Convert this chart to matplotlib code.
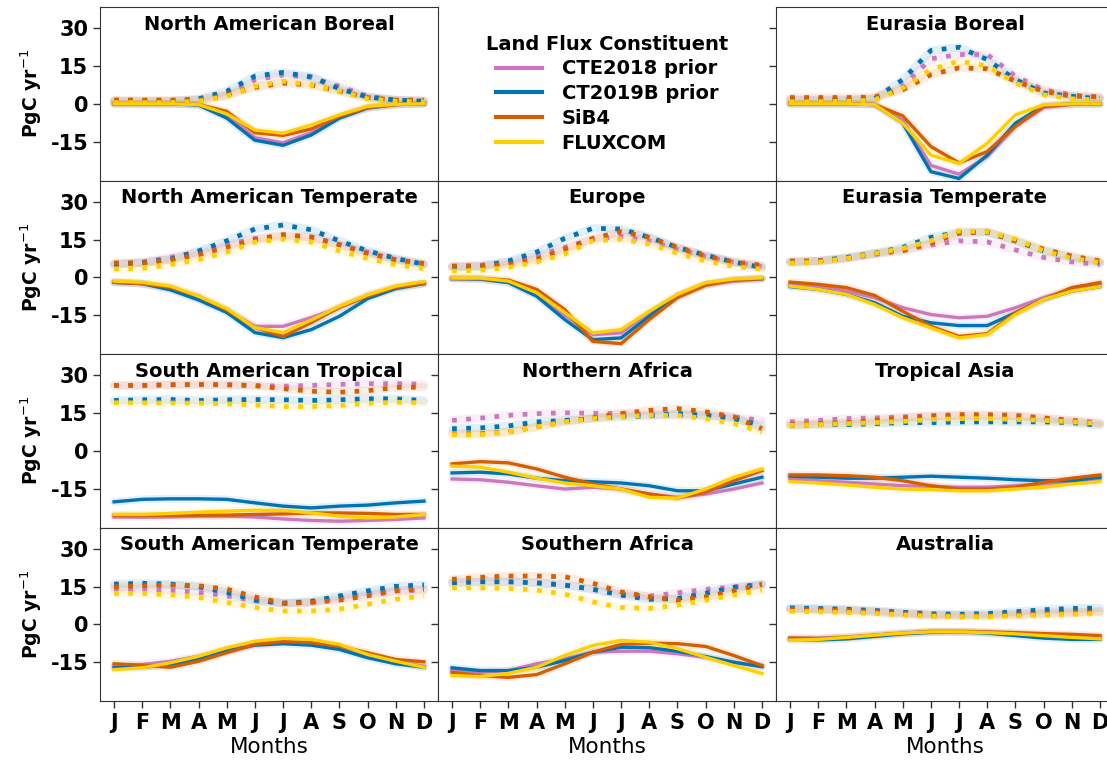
import numpy as np
import matplotlib
matplotlib.use("Agg")
import matplotlib.pyplot as plt
from matplotlib.lines import Line2D

months = ["J", "F", "M", "A", "M", "J", "J", "A", "S", "O", "N", "D"]
models = ["CTE2018 prior", "CT2019B prior", "SiB4", "FLUXCOM"]
colors = ["#CC78BC", "#0173B2", "#D55E00", "#FFD000"]

regions = [
    "North American Boreal", None, "Eurasia Boreal",
    "North American Temperate", "Europe", "Eurasia Temperate",
    "South American Tropical", "Northern Africa", "Tropical Asia",
    "South American Temperate", "Southern Africa", "Australia",
]

# Respiration-type (positive) fluxes per region, order: CTE2018, CT2019B, SiB4, FLUXCOM
resp = {
    "North American Boreal": [
        [1, 1, 1, 1.5, 3.5, 9.5, 11.5, 10.5, 7, 3, 1.5, 1],
        [1, 1, 1, 2, 5, 11, 12.5, 10.7, 6, 2.7, 1.5, 1],
        [1.5, 1.5, 1.5, 1.5, 3.5, 6.5, 8.2, 7.5, 5, 2.5, 1.5, 1.5],
        [0.5, 0.5, 0.5, 1, 3, 7, 9, 7.5, 5, 2, 1, 0.7],
    ],
    "Eurasia Boreal": [
        [1.5, 1.5, 1.5, 2, 7, 17.9, 19.6, 19.6, 11, 5.6, 3.6, 2.5],
        [1.5, 1.5, 1.5, 2, 9.6, 21.2, 22.5, 17.6, 9.6, 4.3, 3, 2],
        [2.5, 2.5, 2.5, 2.7, 5.6, 11.6, 14.3, 13.9, 9, 5, 3, 2.8],
        [0.8, 0.8, 1, 1.5, 6.3, 13.6, 17, 15, 8.3, 3.6, 2, 1.5],
    ],
    "North American Temperate": [
        [5, 6, 8, 10, 13, 15.5, 16.3, 16, 13, 10, 7, 5],
        [5.2, 5.9, 7.2, 10.5, 14.5, 19.2, 20.8, 18.9, 14.5, 10.5, 7.5, 5.2],
        [5.7, 5.7, 7, 9, 12, 15, 17, 16, 13, 9.5, 7, 5.5],
        [3.3, 3.5, 5, 7, 10, 14, 15.2, 14, 10.5, 7.5, 5, 3.5],
    ],
    "Europe": [
        [4.3, 4.8, 6.1, 8.5, 11.9, 15.2, 16.3, 14.5, 11.2, 8.3, 5.9, 4.3],
        [3.9, 4.3, 6.5, 10, 15.5, 19.5, 19.2, 15.9, 11.9, 8.8, 6.1, 3.9],
        [4.5, 4.5, 5.2, 7.2, 11.2, 15.5, 18.1, 15.9, 11.9, 8.5, 6.1, 4.8],
        [2.5, 2.8, 3.9, 6.1, 9.2, 14.5, 15.2, 13.2, 9.6, 6.5, 4.3, 3.2],
    ],
    "Eurasia Temperate": [
        [6, 6.5, 7.5, 9, 11, 12.8, 14.5, 14.1, 10.9, 7.9, 6.1, 5.1],
        [6, 6.5, 7.9, 9.6, 11.9, 15.9, 17.9, 17.9, 14.5, 10.5, 7.9, 5.9],
        [6.5, 6.5, 7.5, 9.5, 10.5, 13.6, 17.5, 18.1, 14.5, 11.2, 8.5, 6.5],
        [5.6, 6, 7.5, 9.5, 11.5, 14.5, 18.5, 18.1, 15.2, 10.5, 7.5, 5.9],
    ],
    "South American Tropical": [
        [26, 26, 26.2, 26.3, 26.2, 26, 25.7, 26, 26.4, 26.7, 26.7, 26.5],
        [20, 20.3, 20.4, 20, 20.3, 20.4, 20.3, 20, 20.3, 20.7, 20.7, 20],
        [26, 26, 26.3, 26.4, 26.3, 25.9, 24.7, 23.7, 23.3, 23.9, 25.2, 25.3],
        [19.1, 19.1, 19, 19, 18.7, 18.3, 17.6, 17.6, 18, 18.9, 19.3, 19.1],
    ],
    "Northern Africa": [
        [12.1, 13, 14.1, 14.8, 15.1, 14.9, 14.9, 14.4, 14.1, 14.1, 13.5, 12.1],
        [8.8, 9.1, 9.9, 11.5, 12.1, 12.8, 13.5, 13.9, 14.8, 14.1, 12.8, 10.1],
        [6.8, 6.8, 7.5, 9.5, 11.5, 13.1, 14.8, 16.1, 16.8, 15.5, 13.5, 8.8],
        [6.4, 6.4, 7.5, 9.5, 11.5, 12.8, 13.5, 14.1, 14.1, 12.8, 10.8, 7.5],
    ],
    "Tropical Asia": [
        [11.5, 12.1, 12.8, 13.1, 13.5, 13.9, 13.9, 13.9, 13.8, 12.8, 12.1, 11.2],
        [10.1, 10.4, 10.4, 10.8, 11.2, 11.2, 11.5, 11.5, 11.5, 11.5, 11.2, 10.1],
        [10.4, 10.8, 11.2, 12.1, 13.1, 13.9, 14.4, 14.4, 14.1, 13.1, 12.1, 10.8],
        [10.1, 10.4, 10.8, 11.2, 11.7, 12.4, 12.8, 12.8, 12.5, 12.1, 11.5, 10.8],
    ],
    "South American Temperate": [
        [14, 14, 13.6, 12.7, 11.3, 9.3, 8.4, 8.7, 10.4, 12, 13.3, 13.6],
        [16, 16.3, 16, 14.9, 12.7, 9.6, 8.4, 9.1, 11.3, 13.3, 15.1, 15.7],
        [14.9, 15.3, 15.6, 15.3, 14, 10.9, 8.4, 8.7, 9.6, 11.3, 13.3, 14],
        [12.3, 12.3, 11.7, 10.7, 8.7, 6.7, 5.3, 5.3, 6, 8, 10, 11.3],
    ],
    "Southern Africa": [
        [16.5, 16.9, 16.9, 16.5, 15.6, 13.9, 12, 11.2, 12.5, 13.9, 14.9, 15.9],
        [16.5, 16.9, 16.9, 16.5, 15.6, 13.9, 11.6, 9.9, 10.3, 12.3, 14.7, 15.9],
        [17.9, 18.7, 19.2, 19.2, 18.9, 16.3, 12.9, 10.9, 9.6, 10.9, 13.3, 15.9],
        [14.5, 14.5, 14.3, 13.6, 12, 8.9, 6.7, 6.3, 7.6, 9.6, 11.6, 13.6],
    ],
    "Australia": [
        [6.3, 6, 5.7, 5, 4.3, 3.7, 3.5, 3.7, 4.2, 4.7, 5, 5.2],
        [6.5, 6.3, 6, 5.5, 4.8, 4.2, 4, 4.3, 5, 5.8, 6.3, 6.5],
        [6, 5.8, 5.5, 5, 4.3, 3.7, 3.5, 3.5, 3.8, 4.2, 4.6, 5],
        [5.2, 5, 4.7, 4.3, 3.7, 3.2, 3, 3, 3.3, 3.7, 4, 4.3],
    ],
}

# Photosynthetic uptake (negative) fluxes per region, same model order
gpp = {
    "North American Boreal": [
        [0, 0, 0, -0.3, -4.5, -13.5, -15.5, -11.5, -5.5, -1.5, -0.3, 0],
        [0, 0, 0, -0.5, -5.7, -14.5, -16.5, -12.4, -5.7, -1.7, -0.3, 0],
        [0, 0, 0, -0.3, -3, -11.5, -12.6, -10, -5, -1.5, -0.3, 0],
        [0, 0, 0, -0.3, -4, -10.4, -11.7, -8.4, -4.4, -1, -0.2, 0],
    ],
    "Eurasia Boreal": [
        [0, 0, 0, -0.3, -6.5, -24.5, -28, -21, -9, -1.5, -0.2, 0],
        [0, 0, 0, -0.3, -7.7, -27, -29.7, -20.4, -7.7, -0.8, 0, 0],
        [0, 0, 0, -0.3, -4.8, -17, -23.5, -19, -9, -1, -0.2, 0],
        [0, 0, 0, -0.3, -7.7, -20.4, -23.7, -15.7, -4.4, -0.4, 0, 0],
    ],
    "North American Temperate": [
        [-2, -2.5, -4.5, -8.5, -13, -19.5, -19.5, -16, -12, -7, -4, -2.5],
        [-2, -2.5, -5, -9, -14, -22, -24, -20.8, -15.5, -8.5, -4.5, -2.5],
        [-2, -2.5, -4, -7.5, -13, -20, -23.5, -18, -12, -7.5, -4, -2.5],
        [-1.5, -2, -3.5, -7.5, -12.5, -20, -22, -17, -11.5, -7, -3.5, -1.7],
    ],
    "Europe": [
        [-0.5, -0.6, -2, -7, -15, -22.8, -22.1, -14, -7, -3, -1.5, -0.7],
        [-0.5, -0.7, -2.1, -7.5, -16.8, -24.8, -24.1, -15.5, -7.5, -2.8, -1, -0.5],
        [-0.5, -0.5, -1.1, -4.8, -12.8, -25.5, -26.4, -16.8, -8.1, -3.2, -1.1, -0.5],
        [-0.3, -0.3, -1.5, -6.1, -14, -22.1, -20.8, -13.5, -6.8, -2.1, -0.7, -0.2],
    ],
    "Eurasia Temperate": [
        [-2.8, -3.5, -5.5, -8.1, -12.1, -14.8, -16.1, -15.5, -12.1, -8.1, -4.8, -2.8],
        [-3.7, -4.8, -6.8, -10.1, -15.5, -18.1, -19.2, -19.2, -14.1, -8.8, -5.5, -3.7],
        [-1.9, -2.8, -4.1, -7.2, -13.5, -19.5, -23.5, -22.4, -14.1, -8.8, -4.1, -2.1],
        [-3.5, -4.8, -6.8, -10.8, -16.1, -20.1, -24.1, -22.8, -14.8, -8.8, -5.5, -3.7],
    ],
    "South American Tropical": [
        [-26.3, -26.4, -26.3, -26, -26, -26.3, -27.1, -27.7, -28, -27.7, -27.3, -26.7],
        [-20.3, -19.3, -19.1, -19.1, -19.3, -20.7, -22, -22.7, -22, -21.6, -20.7, -20],
        [-25.7, -25.7, -25.7, -25.6, -25.6, -25.3, -25.1, -24.7, -24.7, -24.9, -25.3, -25.3],
        [-25.3, -25.3, -24.9, -24.4, -24, -23.6, -23.7, -24.7, -26, -26.7, -26.3, -25.3],
    ],
    "Northern Africa": [
        [-11.2, -11.5, -12.5, -13.9, -15.2, -14.5, -15.2, -17.2, -18.5, -17.2, -15.2, -12.8],
        [-8.8, -8.5, -9.2, -10.9, -11.9, -12.3, -12.8, -13.9, -15.9, -15.9, -13.2, -10.5],
        [-5.2, -4.3, -4.8, -7.2, -10.5, -13.2, -15.2, -17.2, -18.8, -16.5, -11.9, -7.9],
        [-6.1, -6.5, -8.5, -10.9, -12.8, -13.9, -15.2, -18.5, -18.8, -15.2, -10.5, -7.2],
    ],
    "Tropical Asia": [
        [-11.2, -11.9, -12.5, -13.2, -13.9, -14.1, -14.5, -14.5, -13.9, -13.2, -12.3, -11.2],
        [-10.1, -10.5, -10.9, -10.9, -10.5, -10.1, -10.5, -10.9, -11.5, -11.9, -11.9, -10.5],
        [-9.6, -9.6, -9.9, -10.5, -11.9, -13.9, -15.2, -15.2, -14.5, -12.5, -10.9, -9.6],
        [-12.3, -12.8, -13.6, -14.5, -15.2, -15.5, -15.9, -15.9, -15.2, -14.5, -13.2, -12.3],
    ],
    "South American Temperate": [
        [-16.7, -16, -14.7, -12.7, -10, -7.7, -6.9, -7.3, -9.1, -12.3, -14.7, -16.7],
        [-17.3, -17.1, -16, -14, -10.7, -8.3, -7.7, -8.3, -10, -13.3, -15.7, -17.1],
        [-15.7, -16.3, -17.1, -14.7, -11.3, -8, -6.9, -7.3, -8.7, -11.3, -14, -14.9],
        [-18, -17.3, -15.3, -12.7, -9.3, -6.7, -5.6, -6, -8, -12, -14.7, -17.1],
    ],
    "Southern Africa": [
        [-18.4, -19.1, -18.4, -15.7, -13.7, -11.1, -10.7, -10.7, -11.7, -13.1, -15.1, -16.8],
        [-17.3, -18.4, -18.4, -17.1, -14.4, -11.1, -9.1, -9.3, -10.7, -12.8, -15.1, -16.8],
        [-19.1, -20.4, -21.1, -20, -15.7, -11.1, -8, -7.5, -7.7, -8.8, -12.4, -16.4],
        [-20.4, -20.8, -19.5, -17.1, -12.4, -8.4, -6.4, -7.1, -9.7, -13.1, -16.4, -19.5],
    ],
    "Australia": [
        [-5.5, -5.5, -5, -4.3, -3.5, -3, -3, -3.2, -3.7, -4.2, -4.5, -5],
        [-6, -6.2, -5.8, -4.8, -3.8, -3.2, -3, -3.5, -4.5, -5.5, -6, -6],
        [-5.5, -5.7, -5.2, -4.3, -3.5, -2.8, -2.8, -3, -3.3, -3.7, -4, -4.5],
        [-6.3, -6, -5.2, -4.3, -3.5, -3, -3, -3.3, -3.8, -4.5, -5.2, -5.8],
    ],
}

yticks = [-15, 0, 15, 30]

fig = plt.figure(figsize=(11.07, 7.61), dpi=100)
axes = fig.subplots(4, 3, sharex=True, sharey=True)
fig.subplots_adjust(left=100 / 1107, right=1114 / 1107, top=1 - 7 / 761,
                    bottom=1 - 701 / 761, wspace=0, hspace=0)

x = np.arange(len(months))

for ax, name in zip(axes.flat, regions):
    if name is None:
        ax.axis("off")
        continue
    for k, c in enumerate(colors):
        r = resp[name][k]
        g = gpp[name][k]
        # faint halo behind each curve
        ax.plot(x, r, color=c, lw=6, alpha=0.11, solid_capstyle="round", zorder=1)
        ax.plot(x, g, color=c, lw=5.5, alpha=0.11, solid_capstyle="round", zorder=1)
        ax.plot(x, r, color=c, lw=3.4, ls=(0, (1, 2.0)), zorder=2 + k)
        ax.plot(x, g, color=c, lw=2.4, ls="-", zorder=2 + k)
    ax.text(0.5, 0.9, name, transform=ax.transAxes, ha="center", va="center",
            fontsize=14, fontweight="bold")
    for s in ax.spines.values():
        s.set_color("#333333")

ax0 = axes[0, 0]
ax0.set_xlim(-0.5, 11.5)
ax0.set_ylim(-30.5, 38.5)
ax0.set_yticks(yticks)
ax0.set_yticklabels([str(v) for v in yticks])
ax0.set_xticks(x)
ax0.set_xticklabels(months)

for ax in axes.flat:
    ax.tick_params(labelsize=15, length=5, width=1, color="#333333")
    for lab in ax.get_xticklabels() + ax.get_yticklabels():
        lab.set_fontweight("bold")

for row in axes:
    row[0].set_ylabel("PgC yr$^{-1}$", fontsize=13.5, fontweight="bold", labelpad=5)
for ax in axes[-1]:
    ax.set_xlabel("Months", fontsize=15.5, labelpad=3)
    ax.xaxis.set_tick_params(labelbottom=True)

# legend in the empty top-middle panel
handles = [Line2D([0], [0], color=c, lw=3) for c in colors]
leg = axes[0, 1].legend(handles, models, title="Land Flux Constituent", loc="center",
                        bbox_to_anchor=(0.5, 0.5), frameon=False,
                        prop={"weight": "bold", "size": 14},
                        handlelength=2.4, handletextpad=1.0, labelspacing=0.3)
leg.get_title().set_fontweight("bold")
leg.get_title().set_fontsize(14)

fig.savefig("out.png", dpi=100)
